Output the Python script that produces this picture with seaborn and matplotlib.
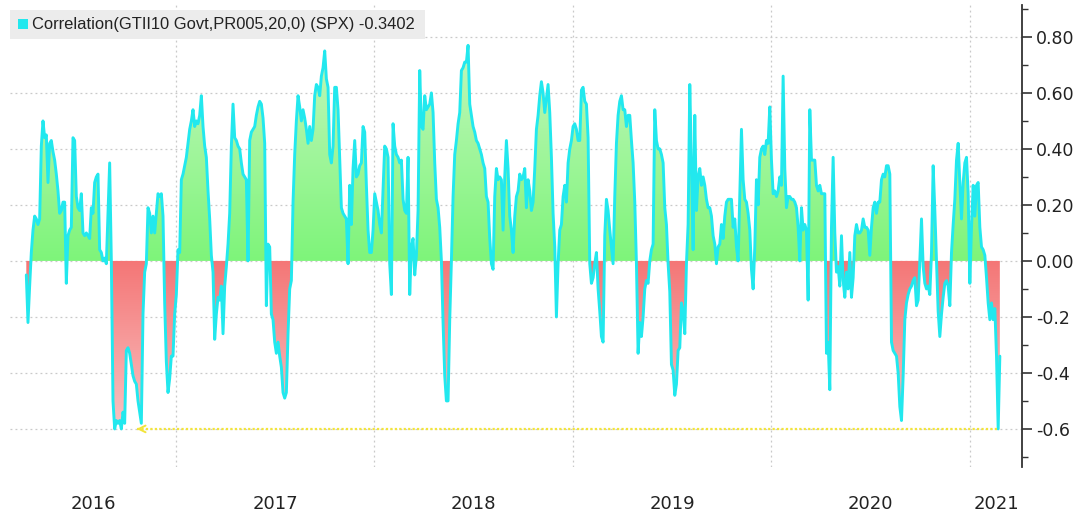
import numpy as np
import pandas as pd
import matplotlib
matplotlib.use("Agg")
import matplotlib.pyplot as plt
import matplotlib.dates as mdates
import matplotlib.colors as mcolors
from matplotlib.path import Path
from matplotlib.patches import Rectangle
from matplotlib.ticker import FixedLocator, NullFormatter, MultipleLocator
import seaborn as sns

# ---------------- data ----------------
series_label = "Correlation(GTII10 Govt,PR005,20,0) (SPX) -0.3402"
start_date = "2016-04-01"
step_days = 3.0655
corr_values = [
    -0.05, -0.22, -0.09, 0.03, 0.11, 0.16, 0.15, 0.13, 0.15, 0.41,
    0.50, 0.44, 0.45, 0.28, 0.42, 0.43, 0.39, 0.36, 0.31, 0.25,
    0.17, 0.18, 0.21, 0.21, -0.08, 0.09, 0.11, 0.12, 0.44, 0.43,
    0.23, 0.19, 0.18, 0.24, 0.10, 0.09, 0.10, 0.09, 0.08, 0.19,
    0.17, 0.28, 0.30, 0.31, 0.04, 0.03, 0.00, 0.01, -0.01, 0.17,
    0.35, 0.00, -0.50, -0.60, -0.57, -0.58, -0.57, -0.60, -0.54, -0.58,
    -0.32, -0.31, -0.33, -0.37, -0.41, -0.43, -0.44, -0.50, -0.54, -0.58,
    -0.19, -0.04, -0.01, 0.19, 0.17, 0.10, 0.16, 0.10, 0.17, 0.24,
    0.23, 0.24, 0.16, -0.15, -0.36, -0.47, -0.42, -0.34, -0.34, -0.19,
    -0.12, 0.04, 0.03, 0.29, 0.31, 0.34, 0.37, 0.42, 0.47, 0.50,
    0.54, 0.48, 0.50, 0.49, 0.52, 0.59, 0.48, 0.41, 0.37, 0.25,
    0.15, 0.02, -0.04, -0.28, -0.19, -0.13, -0.14, -0.09, -0.26, -0.09,
    -0.02, 0.06, 0.17, 0.41, 0.56, 0.44, 0.43, 0.41, 0.40, 0.35,
    0.31, 0.30, 0.29, 0.00, 0.43, 0.46, 0.47, 0.48, 0.52, 0.55,
    0.57, 0.56, 0.51, 0.42, -0.16, 0.06, 0.05, -0.19, -0.21, -0.29,
    -0.33, -0.29, -0.34, -0.38, -0.47, -0.49, -0.47, -0.26, -0.10, -0.07,
    0.21, 0.38, 0.50,
    0.59, 0.55, 0.50, 0.54, 0.51, 0.47, 0.42, 0.48, 0.43, 0.47,
    0.59, 0.63, 0.62, 0.59, 0.66, 0.69, 0.75, 0.65, 0.62, 0.38,
    0.35, 0.41, 0.62, 0.62, 0.54, 0.37, 0.19, 0.17, 0.16, 0.15,
    -0.01,
    0.27, 0.13, 0.33, 0.43, 0.30, 0.31, 0.34, 0.35, 0.48, 0.46,
    0.27, 0.11, 0.03, 0.03, 0.11, 0.24, 0.21, 0.18, 0.13, 0.10,
    0.25, 0.41, 0.40, 0.37, -0.01, -0.12, 0.49, 0.41, 0.38, 0.37,
    0.35, 0.36, 0.22, 0.18, 0.17, 0.37, -0.12, 0.05, 0.08, -0.05,
    0.02, 0.18, 0.68, 0.48, 0.47, 0.59, 0.54, 0.55, 0.56, 0.60,
    0.53, 0.35, 0.22, 0.19, 0.12, 0.00, -0.22, -0.41, -0.50, -0.50,
    -0.21, 0.00, 0.23, 0.38, 0.43, 0.49, 0.53, 0.68, 0.69, 0.71,
    0.71, 0.77, 0.56, 0.52, 0.48, 0.46, 0.43, 0.42, 0.40, 0.38,
    0.35, 0.33, 0.23, 0.21, 0.08, -0.01, -0.03, 0.23, 0.33, 0.29,
    0.30, 0.29, 0.11, 0.30, 0.43, 0.33, 0.16, 0.11, 0.03, 0.16,
    0.23, 0.25, 0.31, 0.29, 0.30, 0.33, 0.19, 0.29, 0.25, 0.18,
    0.21, 0.33, 0.47, 0.52, 0.59, 0.64, 0.60, 0.53, 0.58, 0.63,
    0.53, 0.37, 0.17, 0.05, -0.20, -0.01, 0.11, 0.13, 0.23, 0.27,
    0.21, 0.35, 0.40, 0.43, 0.48, 0.49, 0.47, 0.43, 0.43, 0.61,
    0.62, 0.57, 0.56, 0.44, -0.01, -0.08, -0.06, -0.01, 0.03, -0.10,
    -0.18, -0.27, -0.29, 0.09, 0.22, 0.18, 0.11, 0.05, -0.01, 0.23,
    0.42, 0.52, 0.57, 0.59, 0.54, 0.54, 0.48, 0.52, 0.52, 0.43,
    0.35, 0.21, -0.01, -0.33, -0.22, -0.27, -0.20, -0.10, -0.07, -0.08,
    0.00, 0.04, 0.06, 0.54, 0.43, 0.40, 0.40, 0.38, 0.35, 0.19,
    0.13, -0.01, -0.11, -0.37, -0.39, -0.48, -0.44, -0.32, -0.31, -0.15,
    -0.18, -0.26, -0.01, 0.13, 0.63, 0.35, 0.04, 0.52, 0.18, 0.30,
    0.33, 0.27, 0.30, 0.27, 0.22, 0.19, 0.19, 0.16, 0.09, 0.06,
    -0.01, 0.05, 0.06, 0.13, 0.08, 0.16, 0.21, 0.22, 0.22, 0.22,
    0.12, 0.15, 0.05, 0.00, 0.24, 0.47, 0.29, 0.22, 0.21, 0.17,
    0.11, -0.03, -0.10, 0.05, 0.29, 0.20, 0.37, 0.40, 0.41, 0.38,
    0.43, 0.42, 0.55, 0.36, 0.24, 0.25, 0.23, 0.25, 0.30, 0.27,
    0.66, 0.33, 0.19, 0.23, 0.23, 0.22, 0.22, 0.21, 0.19, 0.12,
    0.00, 0.19, 0.11, 0.13, 0.11, -0.14, 0.54, 0.36, 0.36, 0.36,
    0.27, 0.25, 0.27, 0.24, 0.24, 0.24, -0.33, -0.29, -0.46, 0.12,
    0.37, 0.10, -0.04, -0.02, -0.09, 0.09, -0.07, -0.13, -0.04, -0.10,
    0.03, -0.13, -0.06, 0.09, 0.13, 0.10, 0.10, 0.11, 0.15, 0.12,
    0.12, 0.11, 0.02, 0.12, 0.19, 0.21, 0.17, 0.21, 0.21, 0.29,
    0.31, 0.30, 0.34, 0.34, 0.31, -0.29, -0.32, -0.33, -0.34, -0.40,
    -0.52, -0.57, -0.41, -0.21, -0.15, -0.12, -0.10, -0.09, -0.07, -0.06,
    -0.16, -0.14, 0.00, 0.15, -0.02, -0.08, -0.10, -0.09, -0.12, 0.03,
    0.34, 0.18, 0.00, -0.18, -0.27, -0.19, -0.13, -0.08, -0.07, -0.09,
    -0.16, 0.03, 0.13, 0.22, 0.36, 0.42, 0.28, 0.15, 0.28, 0.35,
    0.37, 0.24, -0.08, 0.12, 0.27, 0.16, 0.27, 0.28, 0.12, 0.05,
    0.04, 0.02, -0.06, -0.15, -0.21, -0.15, -0.21, -0.17, -0.34, -0.60,
    -0.34,
]
trend_dates = ["2016-10-21", "2021-02-23"]
trend_values = [-0.60, -0.60]
year_labels = ["2016", "2017", "2018", "2019", "2020", "2021"]
year_starts = ["2017-01-01", "2018-01-01", "2019-01-01", "2020-01-01", "2021-01-01"]
y_ticks = [0.8, 0.6, 0.4, 0.2, 0.0, -0.2, -0.4, -0.6]
y_tick_labels = ["0.80", "0.60", "0.40", "0.20", "0.00", "-0.2", "-0.4", "-0.6"]
x_limits = ["2016-03-02", "2021-04-06"]
y_limits = [-0.736, 0.914]

# ---------------- style ----------------
sns.set_theme(style="white")
plt.rcParams["font.family"] = ["DejaVu Sans"]

LINE_C = "#22e8ee"
GREEN_NEAR, GREEN_FAR = "#7ef47a", "#d2f8cc"
RED_NEAR, RED_FAR = "#f47676", "#fbd6d6"
GRID_C = "#c9c9c9"

W, H = 1074, 517
fig = plt.figure(figsize=(W / 100, H / 100), dpi=100)
fig.patch.set_facecolor("white")
ax = fig.add_axes([10 / W, 1 - 467 / H, 1012 / W, 462 / H])
ax.set_facecolor("white")

dates = pd.Timestamp(start_date) + pd.to_timedelta(np.arange(len(corr_values)) * step_days, unit="D")
xn = mdates.date2num(dates.values)
yv = np.asarray(corr_values, dtype=float)


def gradient_fill(ax, x, y, mask, c_near, c_far, v_far):
    coll = ax.fill_between(x, y, 0, where=mask, interpolate=True,
                           facecolor="none", edgecolor="none", linewidth=0)
    paths = [p for p in coll.get_paths() if len(p.vertices)]
    if not paths:
        return
    comp = Path.make_compound_path(*paths)
    cmap = mcolors.LinearSegmentedColormap.from_list("grad", [c_near, c_far])
    grad = np.linspace(0, 1, 256).reshape(-1, 1)
    if v_far > 0:
        lo, hi, data = 0.0, v_far, grad
    else:
        lo, hi, data = v_far, 0.0, grad[::-1]
    im = ax.imshow(data, extent=[x[0], x[-1], lo, hi], origin="lower",
                   aspect="auto", cmap=cmap, zorder=1, interpolation="bilinear")
    im.set_clip_path(comp, ax.transData)


gradient_fill(ax, xn, yv, yv >= 0, GREEN_NEAR, GREEN_FAR, 0.95)
gradient_fill(ax, xn, yv, yv <= 0, RED_NEAR, RED_FAR, -0.75)

sns.lineplot(x=xn, y=yv, ax=ax, color=LINE_C, linewidth=2.1, zorder=3,
             estimator=None, sort=False, legend=False)

# yellow dotted trend line with arrow head
tx = mdates.date2num(pd.to_datetime(trend_dates).values)
ax.plot(tx, trend_values, color="#f2e43a", lw=1.6, ls=(0, (1, 1)), zorder=4)
ax.annotate("", xy=(tx[0], trend_values[0]), xytext=(tx[0] + 10, trend_values[0]),
            arrowprops=dict(arrowstyle="->", color="#f2e43a", lw=1.4,
                            mutation_scale=12), zorder=4)

# axes limits
ax.set_xlim(mdates.date2num(pd.to_datetime(x_limits).values))
ax.set_ylim(y_limits)

# x axis: year boundaries as gridlines, year labels centered
ys = mdates.date2num(pd.to_datetime(year_starts).values)
xl = ax.get_xlim()
edges = np.concatenate([[xl[0]], ys, [xl[1]]])
mids = (edges[:-1] + edges[1:]) / 2
ax.xaxis.set_major_locator(FixedLocator(ys))
ax.xaxis.set_major_formatter(NullFormatter())
ax.set_xticks(mids, minor=True)
ax.set_xticklabels(year_labels, minor=True)
ax.tick_params(axis="x", which="both", length=0)
ax.tick_params(axis="x", which="minor", pad=20, labelsize=13, labelcolor="#222222")
for lab in ax.get_xticklabels(minor=True):
    lab.set_family(["Liberation Sans Narrow", "DejaVu Sans"])

# y axis on right
ax.yaxis.tick_right()
ax.set_yticks(y_ticks)
ax.set_yticklabels(y_tick_labels)
ax.yaxis.set_minor_locator(MultipleLocator(0.1))
ax.tick_params(axis="y", which="major", direction="out", length=7, width=1.2,
               color="#333333", labelsize=12.5, pad=3, labelcolor="#222222",
               right=True, left=False)
ax.tick_params(axis="y", which="minor", direction="out", length=4, width=1.0,
               color="#333333", right=True, left=False)

ax.grid(True, axis="both", which="major", color=GRID_C, lw=0.9, ls=(0, (1.5, 2.5)))
ax.set_axisbelow(True)
for s in ["left", "top", "bottom"]:
    ax.spines[s].set_visible(False)
ax.spines["right"].set_color("#333333")
ax.spines["right"].set_linewidth(1.3)

# legend box (top-left)
fig.add_artist(Rectangle((10 / W, 1 - 39 / H), 415 / W, 29 / H, transform=fig.transFigure,
                         facecolor="#ececec", edgecolor="none", zorder=5))
fig.add_artist(Rectangle((18 / W, 1 - 29 / H), 10 / W, 10 / H, transform=fig.transFigure,
                         facecolor=LINE_C, edgecolor="none", zorder=6))
fig.text(32 / W, 1 - 24.5 / H, series_label, ha="left", va="center", fontsize=11.9,
         color="#222222", family=["Liberation Sans", "DejaVu Sans"], zorder=6)

fig.savefig("out.png", dpi=100)
